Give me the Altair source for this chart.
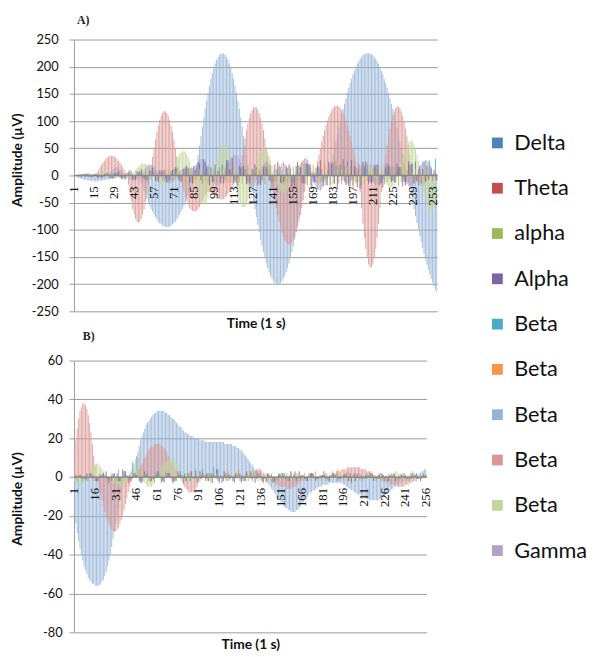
import altair as alt
import pandas as pd

# ---------------- categories / labels ----------------
SERIES = ["Delta", "Theta", "alpha", "Alpha", "Beta 1", "Beta 2", "Beta 3", "Beta 4", "Beta 5", "Gamma"]
COLORS = ["#4F81BD", "#C0504D", "#9BBB59", "#8064A2", "#4BACC6", "#F79646",
          "#95B3D7", "#D99694", "#C3D69B", "#B3A2C7"]
DRAW_ORDER = ["Beta 3", "Beta 4", "Beta 5", "Gamma", "Delta", "Theta", "alpha", "Alpha", "Beta 1", "Beta 2"]

CATEGORIES = list(range(1, 257))
A_X_LABELS = list(range(1, 257, 14))
B_X_LABELS = list(range(1, 257, 15))
A_Y_TICKS = list(range(-250, 251, 50))
B_Y_TICKS = list(range(-80, 61, 20))

CATS_1 = list(range(1, 257, 4))
CATS_2 = list(range(2, 257, 4))
CATS_3 = list(range(3, 257, 4))
CATS_4 = list(range(4, 257, 4))

# ---------------- panel A values ----------------
A_BETA3 = [-2,-3,-4,-5,-6,-6,-7,-8,-8,-9, -9,-10,-10,-10,-11,-11,-11,-10,-10,-10,
           -9,-9,-8,-8,-7,-7,-6,-6,-5,-5, -4,-4,-3,-3,-2,-2,-2,-3,-3,-2,
           -2,-1,-1,-1,0,0,
           -7,-15,-22,-29,-36,-43,-50,-56,-62,-67, -72,-77,-81,-85,-88,-90,-92,-94,-95,-95,
           -95,-94,-92,-90,-88,-85,-81,-77,-72,-67, -62,-56,-50,-43,-36,-29,-22,-15,-7,0,
           19,37,55,73,90,107,123,138,152,165, 178,188,198,206,213,218,222,224,225,224,
           222,218,213,206,198,188,178,165,152,138, 123,107,90,73,55,37,19,0,
           -16,-31,-47,-62,-77,-91,-104,-118,-130,-141, -152,-162,-171,-178,-185,-190,-194,-198,-199,-200,
           -199,-198,-194,-190,-185,-178,-171,-162,-152,-141, -130,-118,-104,-91,-77,-62,-47,-31,-16,0,
           2,3,4,5,6,6,5,4,3,2,1,0,0,0,0,0,
           13,26,38,51,63,76,88,99,111,122, 132,142,152,161,170,178,186,193,199,205,
           210,214,218,221,223,224,225,225,224,223, 221,218,214,210,205,199,193,186,178,170,
           161,152,142,132,122,111,99,88,76,63, 51,38,26,13,0,
           -12,-25,-37,-50,-62,-75,-87,-99,-111,-122,
           -133,-144,-154,-164,-173,-182,-190,-197,-204,-210,-215]

A_BETA4 = [1,1,1,2,2,2,2,1,1,1,0,0,-1,-1,0,0,
           5,10,15,19,24,27,30,33,35,36,36,36,35,33,30,27,24,19,15,10,5,
           0,
           -17,-33,-48,-62,-72,-80,-85,-87,-85,-80,-72,-62,-48,-33,-17,
           0,
           18,35,51,66,80,92,102,110,115,118,118,115,110,102,92,80,66,51,35,18,
           0,
           -10,-20,-30,-39,-47,-54,-59,-63,-65,-66, -66,-65,-62,-58,-53,-47,-41,-36,-32,-30,
           -30,-31,-33,-36,-39,-41,-43,-44,-44,-44, -43,-41,-38,-34,-30,-26,-22,-17,-13,-9,
           -5,-2,
           18,36,52,68,83,95,106,115,121,125,126,125,121,115,106,95,83,68,52,36,18,
           0,
           -15,-31,-45,-60,-73,-85,-96,-105,-113,-120,-124,-127,-128,-127,-124,-120,-113,-105,-96,-85,
           -73,-60,-45,-31,-15,
           0,
           2,4,4,2,0,
           13,26,38,50,62,73,83,93,101,109,115,120,124,127,128,128,127,124,120,115,
           109,101,93,83,73,62,50,38,26,13,
           0,
           -31,-61,-89,-115,-136,-152,-164,-169,-169,-164,-152,-136,-115,-89,-61,-31,
           0,
           19,37,55,72,86,99,110,118,124,127,127,124,118,110,99,86,72,55,37,19,
           0,
           -4,-8,-12,-15,-17,-18,-18,-17,-15,-12,-9,-6,-3,0,2,4,5]

A_BETA5 = [0,1,1,2,2,1,0,-1,-1,0,1,1,2,2,3,
           3,4,4,5,5,6,6,
           6,5,5,4,3,2,0,-1,-3,-4,-6,-7,-8,-8,
           -8,-7,-5,-2,0,4,7,10,14,16,19,21,22,22,
           21,20,17,14,10,5,0,-5,-9,-12,-15,-16,-17,
           -16,-14,-11,-7,-2,4,11,17,24,30,35,39,42,44,45,
           44,40,34,27,17,7,-4,-15,-25,-35,-42,-48,-52,-53,
           -52,-48,-41,-32,-22,-10,3,15,27,37,46,53,57,58,
           57,52,45,36,25,12,0,-13,-26,-37,-46,-53,-58,-59,
           -58,-54,-47,-38,-28,-16,-4,9,21,31,40,47,51,52,
           51,48,43,36,28,19,10,1,-8,-16,-23,-28,-31,-32,
           -31,-29,-26,-21,-16,-10,-4,3,9,14,19,22,24,25,
           24,23,20,17,13,9,4,0,-4,-7,-10,-11,-12,
           -12,-11,-9,-7,-4,-1,1,4,7,9,11,12,12,
           12,10,8,6,3,0,-3,-6,-8,-10,-12,-12,
           -12,-10,-8,-6,-2,1,4,8,10,12,14,14,
           13,12,9,5,1,-4,-9,-13,-17,-20,-21,-22,
           -21,-18,-13,-6,2,11,21,31,40,48,55,60,63,64,
           62,58,50,39,27,13,-2,-17,-31,-43,-54,-62,-66,-68,
           -66,-60,-52,-42]

A_GAMMA = [0,0,1,1,2,2,3,3,4,4, 4,3,2,1,0,-1,-2,-3,-4,-5, -5,-4,-2,0,3,6,9,11,13,15,
           15,14,12,9,6,3,0,-3,-6,-8,-9,-10,
           -10,-9,-7,-4,-1,3,7,11,14,17,19,20,20,
           19,17,14,10,6,1,-4,-8,-11,-13,-14,-15,-15,
           -14,-12,-9,-5,-1,3,7,10,12,14,15,15,
           14,13,12,13,15,18,21,25,28,30,30,
           28,24,18,11,3,-4,-10,-14,-17,-18,-18,
           -16,-12,-6,1,8,15,22,28,32,35,37,38,38,
           36,31,24,16,7,-2,-10,-16,-20,-22,-22,
           -19,-14,-8,-1,6,12,17,21,24,25,25,
           21,13,3,-5,-9,-10,
           -3,7,16,22,25,
           21,13,3,-7,-14,-18,-20,-20,
           -15,-6,5,15,23,28,31,32,
           29,23,14,4,-6,-15,-21,-25,-27,-28,
           -25,-18,-8,3,12,19,23,25,25,
           23,19,14,8,2,-4,-9,-12,-14,-15,-15,
           -13,-10,-5,0,5,10,14,17,19,20,20,
           18,13,7,0,-6,-11,-15,-17,-18,-18,
           -16,-12,-7,-2,3,7,11,13,14,15,15,
           14,12,8,4,0,-5,-9,-13,-16,-18,-20,-20,
           -17,-12,-5,2,10,16,21,25,27,28,28,
           25,19,11,3,-4,-8,-10]

A_DELTA = [0,-2,-3,-4,-5,-3,2,4,-3,-6,5,8,-4,-8,6,10,-6,9,14,-10,12,18,22,25,15,-12,20,28,-14,18,12,-10,
           15,-8,10,-12,16,-10,12,18,-14,20,-12,15,22,-16,18,-10,25,-18,20,15,-12,18,-14,22,-10,16,-12,20,25,-15,18,-10]
A_THETA = [1,-2,2,-3,-4,3,-5,4,-6,5,-8,6,-7,8,-10,9,-12,10,-8,12,-14,10,-9,15,-12,8,-15,12,-10,14,-16,12,
           -18,15,-10,20,-14,18,-22,25,-15,20,-12,28,-18,22,-25,30,-20,18,-24,26,-15,20,-22,18,-12,15,-18,22,-10,12,-8,10]
A_ALPHA_LOW = [0,1,-2,2,-3,4,-4,6,-5,7,-6,8,10,-8,6,-9,12,-10,8,-12,14,-8,10,-14,12,-10,16,-12,8,-15,14,-10,
               12,-16,18,-12,10,-14,16,-10,12,-18,15,-12,10,-16,14,-10,18,-14,12,-10,15,-12,10,-8,14,-12,10,-15,12,-10,8,-6]
A_ALPHA = [-1,2,-3,3,-4,5,-6,8,-5,10,-8,12,-10,14,-12,10,-8,15,-12,18,-15,25,30,-18,20,-15,28,32,-20,18,-15,20,
           -18,15,-22,25,-12,20,-18,15,22,-25,18,-20,25,-15,20,-18,28,-22,25,-15,20,-18,15,-12,22,-20,26,-15,18,-12,15,-10]
A_BETA1 = [-1,1,-2,2,-3,3,-4,5,-5,6,-6,8,-8,10,-10,8,-12,12,-10,15,-12,14,-15,18,-12,15,-10,12,-14,16,-12,10,
           -15,18,-10,12,-16,14,-12,18,-15,20,-14,12,-18,22,-15,18,-20,15,-18,22,-12,20,-16,18,-14,15,-12,22,-18,25,28,30]
A_BETA2 = [2,-1,3,-2,4,-3,2,-5,6,-4,8,-6,5,-8,10,-7,12,-9,8,-12,10,-14,12,-10,15,-12,10,-14,16,-12,8,-15,
           12,-10,18,-14,20,-16,15,-22,25,-18,20,-15,22,-20,28,-16,18,-24,22,-15,20,-18,15,-12,18,-20,22,-15,12,-10,15,-8]

# ---------------- panel B values ----------------
B_BETA3 = [-19,-24,-29,-33,-37,-40,-43,-46,-48,-50,-52,-53,-54,-55,-55,-56,-56,-56,-56,
           -55,-54,-53,-51,-49,-46,-43,-40,-36,-32,-28,-24,-20,-16,-12,-8,-5,-2,0,1,1,2,3,
           5,7,9,11,13,16,19,21,23,25,27,28,29,30,31,32,33,33,34,34,34,34,
           34,34,33,33,32,32,31,30,30,29,28,27,26,26,25,24,23,23,22,22,21,21,21,20,20,20,20,19,
           19,19,19,18,18,18,18,18,18,18,18,18,18,18,18,18,18,17,17,17,17,17,17,16,16,16,15,15,14,14,13,12,11,
           10,9,8,7,6,5,4,3,2,1,0,
           0,-1,-1,-2,-3,-4,-5,-6,-7,-8,-9,-10,-11,-12,-13,-14,-15,-16,-16,-17,-17,-18,-18,-18,-18,-17,-17,-16,
           -15,-14,-13,-12,-11,-10,-9,-8,-8,-7,-7,-6,-6,-5,-5,-5,-4,-4,-4,-4,
           -4,-3,-3,-3,-3,-3,-3,-3,-3,-3,-3,-4,-4,-5,-5,-6,
           -6,-7,-7,-8,-8,-9,-9,-9,-10,-10,-10,-11,-11,-11,-12,-12,-12,-12,-12,-12,-12,-12,
           -11,-11,-10,-10,-9,-8,-8,-7,-6,-6,-5,-5,-4,-4,-3,-3,-3,-2,-2,-2,
           -1,-1,-1,0,0,1,1,1,2,2,3,3,4,4]

B_BETA4 = [13,19,25,30,34,36,38,38,
           37,35,32,28,23,17,11,6,0,
           -3,-6,-9,-12,-15,-18,-20,-22,-24,-26,-27,-28,-28,-28,
           -27,-26,-24,-22,-20,-17,-14,-11,-8,-5,-3,-1,0,
           1,2,3,4,6,7,9,10,11,13,14,15,16,16,17,17,17,17,
           17,16,16,15,14,13,11,10,8,7,5,4,2,1,0,
           -1,-2,-4,-5,-6,-7,-8,-8,-8,-8,-7,-6,-5,-3,-2,-1,
           0,1,1,2,2,2,1,1,0,0,-1,-1,-1,0,0,1,1,2,2,2,1,1,0,0,-1,-1,0,0,1,1,1,0,0,0,1,2,2,
           3,3,4,4,4,3,3,2,1,0,-1,-1,-2,-2,-3,-3,-4,-4,-4,-5,
           -5,-5,-5,-5,-6,-6,-6,-6,-5,-5,-5,-4,-4,-3,-3,-2,-2,-1,-1,0,
           0,0,1,1,0,0,-1,-1,0,0,1,1,1,0,0,1,1,2,2,2,3,3,3,3,4,
           4,4,4,5,5,5,5,5,5,5,5,5,5,4,4,4,4,3,3,3,2,2,1,1,0,
           0,-1,-1,-2,-2,-2,-3,-3,-3,-4,-4,-4,-4,-4,-5,-5,-5,-5,-5,-5,-4,-4,-4,-3,-3,
           -3,-2,-2,-2,-1,-1,-1,0,0,0,0]

B_BETA5 = [-2,-3,-4,-4,-4,-3,-2,-1,0,1, 2,3,4,5,6,7,7,7,6,5, 4,3,2,1,0,-1,-2,-3,-3,-3,
           -3,-4,-4,-5,-5,-5,-4,-3,-2,-1, 0,1,2,2,3,3,2,1,0,-1, -2,-3,-4,-5,-5,-5,-5,-4,-3,-1,
           0,2,3,5,6,7,8,8,9,9, 9,9,9,8,7,6,4,2,0,-1, -2,-3,-3,-3,-2,-2,-1,0,1,1,
           2,2,1,1,0,-1,-1,-2,-2,-1,0,1,1,2,2,1,0,0,-1,-1,
           -2,-2,-1,0,1,1,2,2,1,0,-1,-1,-2,-1,0,1,2,2,3,2,
           1,0,-1,-2,-2,-1,0,1,2,2,1,0,-1,-1,-2,-2,-1,0,1,1,
           2,2,2,1,0,-1,-2,-2,-1,0,1,2,2,1,0,-1,-1,-2,-1,0,
           1,2,2,1,0,-1,-2,-2,-1,0,1,1,2,1,0,-1,-1,-2,-1,0,
           1,2,2,2,1,0,-1,-2,-2,-1,0,1,2,2,1,0,-1,-2,-2,-1,
           0,1,2,2,1,0,-1,-1,-2,-1,0,1,2,2,1,0,-1,-2,-2,-1,
           0,1,2,3,3,2,1,0,-1,-2,-2,-1,0,1,2,3,3,2,1,0,-1,-1,0,1,2,2]

B_DELTA = [0,1,-1,2,-2,1,-1,2,-2,3,-1,2,-3,1,-2,3,-2,2,-3,1,2,-2,3,-1,2,-3,4,-2,1,-3,2,-2,
           3,-1,-2,2,-3,1,2,-2,3,-1,-2,2,-1,1,-2,2,-1,1,2,-2,1,-1,2,-1,1,-2,2,-1,1,-1,2,-1]
B_THETA = [1,-1,2,-1,-2,2,-3,2,-2,3,-2,1,-3,2,-1,3,-3,2,-2,1,-2,3,-1,2,-2,1,-3,2,-1,2,-2,3,
           -1,2,-3,1,-2,2,-1,3,-2,1,-2,2,-1,3,-2,1,-1,2,-3,2,-1,1,-2,2,-1,1,-2,1,-1,2,-1,1]
B_ALPHA_LOW = [-2,-3,-2,1,2,1,-1,-2,-1,1,8,10,4,-2,-3,2,3,-1,-2,1,2,-1,-2,1,2,-1,1,-2,1,2,-1,-2,
               1,2,-1,1,-2,1,2,-1,-2,1,2,-1,1,-2,1,2,-1,-2,1,1,-1,2,-1,-2,1,2,-1,1,-2,1,-1,1]
B_ALPHA = [1,-1,2,-2,1,3,-2,2,4,-3,2,-2,3,-2,1,-3,2,-2,3,-3,2,-1,3,-2,2,4,-3,2,-2,3,-2,1,
           -3,2,-2,1,-1,2,-2,1,3,-1,2,-2,1,-1,2,-2,1,-2,2,-1,1,2,-1,2,-2,1,-1,2,-1,1,-2,1]
B_BETA1 = [-1,1,-2,1,-1,2,-1,1,-2,2,-1,1,-2,2,-1,3,-2,2,-1,3,-2,1,-3,4,-2,5,-2,3,-1,2,-3,2,
           -2,3,-1,2,-2,1,-1,2,-2,1,-1,2,-1,1,-2,1,-1,2,-1,1,-2,1,-1,1,-2,1,-1,2,-1,1,-1,2]
B_BETA2 = [2,-1,1,-2,1,-1,2,-2,1,-2,2,-1,1,-3,2,-1,2,-3,1,-2,2,-1,3,-2,-3,2,-1,3,-2,4,-2,3,
           3,4,-3,2,-2,1,-2,2,-1,2,-2,3,-2,2,3,4,-2,3,-2,2,-1,3,-2,1,-1,2,-1,2,-2,1,-1,1]
B_GAMMA = [-1,1,-2,2,-1,2,-2,1,4,3,-2,1,-2,2,-1,2,-1,3,-2,2,-1,3,4,2,-1,2,-2,3,-2,1,-2,2,
           -1,2,-2,1,-1,2,-1,1,-2,1,-1,2,-1,1,-1,2,-1,1,-2,1,-1,2,-1,1,-1,2,-1,1,-1,2,-1,1]

for _name, _arr in [("A_BETA3", A_BETA3), ("A_BETA4", A_BETA4), ("A_BETA5", A_BETA5), ("A_GAMMA", A_GAMMA),
                    ("B_BETA3", B_BETA3), ("B_BETA4", B_BETA4), ("B_BETA5", B_BETA5)]:
    if len(_arr) != 256:
        raise SystemExit(f"{_name} has {len(_arr)} values")

A_DATA = {
    "Beta 3": (CATEGORIES, A_BETA3), "Beta 4": (CATEGORIES, A_BETA4),
    "Beta 5": (CATEGORIES, A_BETA5), "Gamma": (CATEGORIES, A_GAMMA),
    "Delta": (CATS_1, A_DELTA), "Theta": (CATS_2, A_THETA), "alpha": (CATS_3, A_ALPHA_LOW),
    "Alpha": (CATS_4, A_ALPHA), "Beta 1": (CATS_3, A_BETA1), "Beta 2": (CATS_1, A_BETA2),
}
B_DATA = {
    "Beta 3": (CATEGORIES, B_BETA3), "Beta 4": (CATEGORIES, B_BETA4), "Beta 5": (CATEGORIES, B_BETA5),
    "Gamma": (CATS_1, B_GAMMA), "Delta": (CATS_1, B_DELTA), "Theta": (CATS_2, B_THETA),
    "alpha": (CATS_3, B_ALPHA_LOW), "Alpha": (CATS_4, B_ALPHA), "Beta 1": (CATS_2, B_BETA1),
    "Beta 2": (CATS_4, B_BETA2),
}


def frame(data):
    rows = []
    for name in DRAW_ORDER:
        cats, vals = data[name]
        for c, v in zip(cats, vals):
            rows.append({"cat": c, "value": v, "series": name, "z": DRAW_ORDER.index(name)})
    return pd.DataFrame(rows)


GRID = "#9a9a9a"
AXIS_LINE = "#868686"
TEXT = "#111111"

legend = alt.Legend(title=None, orient="none", legendX=419, legendY=94, symbolType="square",
                    symbolSize=120, symbolStrokeWidth=0, symbolOpacity=1, labelFont="Lato",
                    labelFontSize=22, labelColor=TEXT, labelOffset=6, rowPadding=24,
                    padding=0, labelExpr="split(datum.label, ' ')[0]")


def panel(data, xlabels, ydom, yticks, w, h, tag, tag_dx, tag_off, ytitle_x, ytitle_y, ylabel_pad):
    df = frame(data)
    x_axis = alt.Axis(labels=False, ticks=False, domain=False, grid=False,
                      title="Time (1 s)", titlePadding=5, titleFont="Lato",
                      titleFontSize=14, titleFontWeight="bold", titleColor=TEXT)
    x_scale = alt.Scale(domain=CATEGORIES, paddingInner=0.3, paddingOuter=0)
    y_scale = alt.Scale(domain=ydom, nice=False, zero=False)
    y_axis = alt.Axis(values=yticks, tickCount=40, grid=True, gridColor=GRID, gridWidth=1,
                      tickSize=5, tickColor=GRID, domainColor=GRID, labelOverlap=False,
                      labelExpr="'' + datum.value",
                      labelFont="Lato", labelFontSize=13, labelColor=TEXT,
                      labelPadding=ylabel_pad, title="Amplitude (µV)",
                      titleX=ytitle_x, titleY=ytitle_y, titleFont="Lato",
                      titleFontSize=14, titleFontWeight="bold", titleColor=TEXT)
    bars = alt.Chart(df).mark_bar(opacity=0.85, clip=True).encode(
        x=alt.X("cat:O", scale=x_scale, axis=x_axis),
        y=alt.Y("value:Q", stack=None, scale=y_scale, axis=y_axis),
        color=alt.Color("series:N", scale=alt.Scale(domain=SERIES, range=COLORS), legend=legend),
        order=alt.Order("z:Q"),
    )
    zero_line = alt.Chart(pd.DataFrame({"value": [0]})).mark_rule(
        color=AXIS_LINE, strokeWidth=1.3).encode(y=alt.Y("value:Q", scale=y_scale, axis=y_axis))
    labels = alt.Chart(pd.DataFrame({"cat": xlabels, "value": [0] * len(xlabels)})).mark_text(
        angle=270, align="right", baseline="middle", dx=-11,
        font="Liberation Serif", fontSize=13, color=TEXT,
    ).encode(x=alt.X("cat:O", scale=x_scale, axis=x_axis),
             y=alt.Y("value:Q", scale=y_scale, axis=y_axis), text="cat:O")
    return alt.layer(bars, zero_line, labels).properties(
        width=w, height=h,
        title=alt.TitleParams(tag, anchor="start", frame="group", dx=tag_dx, offset=tag_off,
                              font="Liberation Serif", fontSize=12, fontWeight="bold",
                              color="#222222"),
    )


chart_a = panel(A_DATA, A_X_LABELS, [-250, 250], A_Y_TICKS, 369, 276, "A)", 3, 7, -50, 122, 11)
chart_b = panel(B_DATA, B_X_LABELS, [-80, 60], B_Y_TICKS, 358, 276, "B)", 9, 12, -50, 140, 7)

chart = alt.vconcat(chart_a, chart_b, spacing=0).resolve_scale(color="shared").properties(
    padding={"top": 1, "left": 3, "right": 0, "bottom": 0}
).configure_view(stroke=None)

chart.save("out.html", embed_options={"renderer": "svg", "actions": False})
